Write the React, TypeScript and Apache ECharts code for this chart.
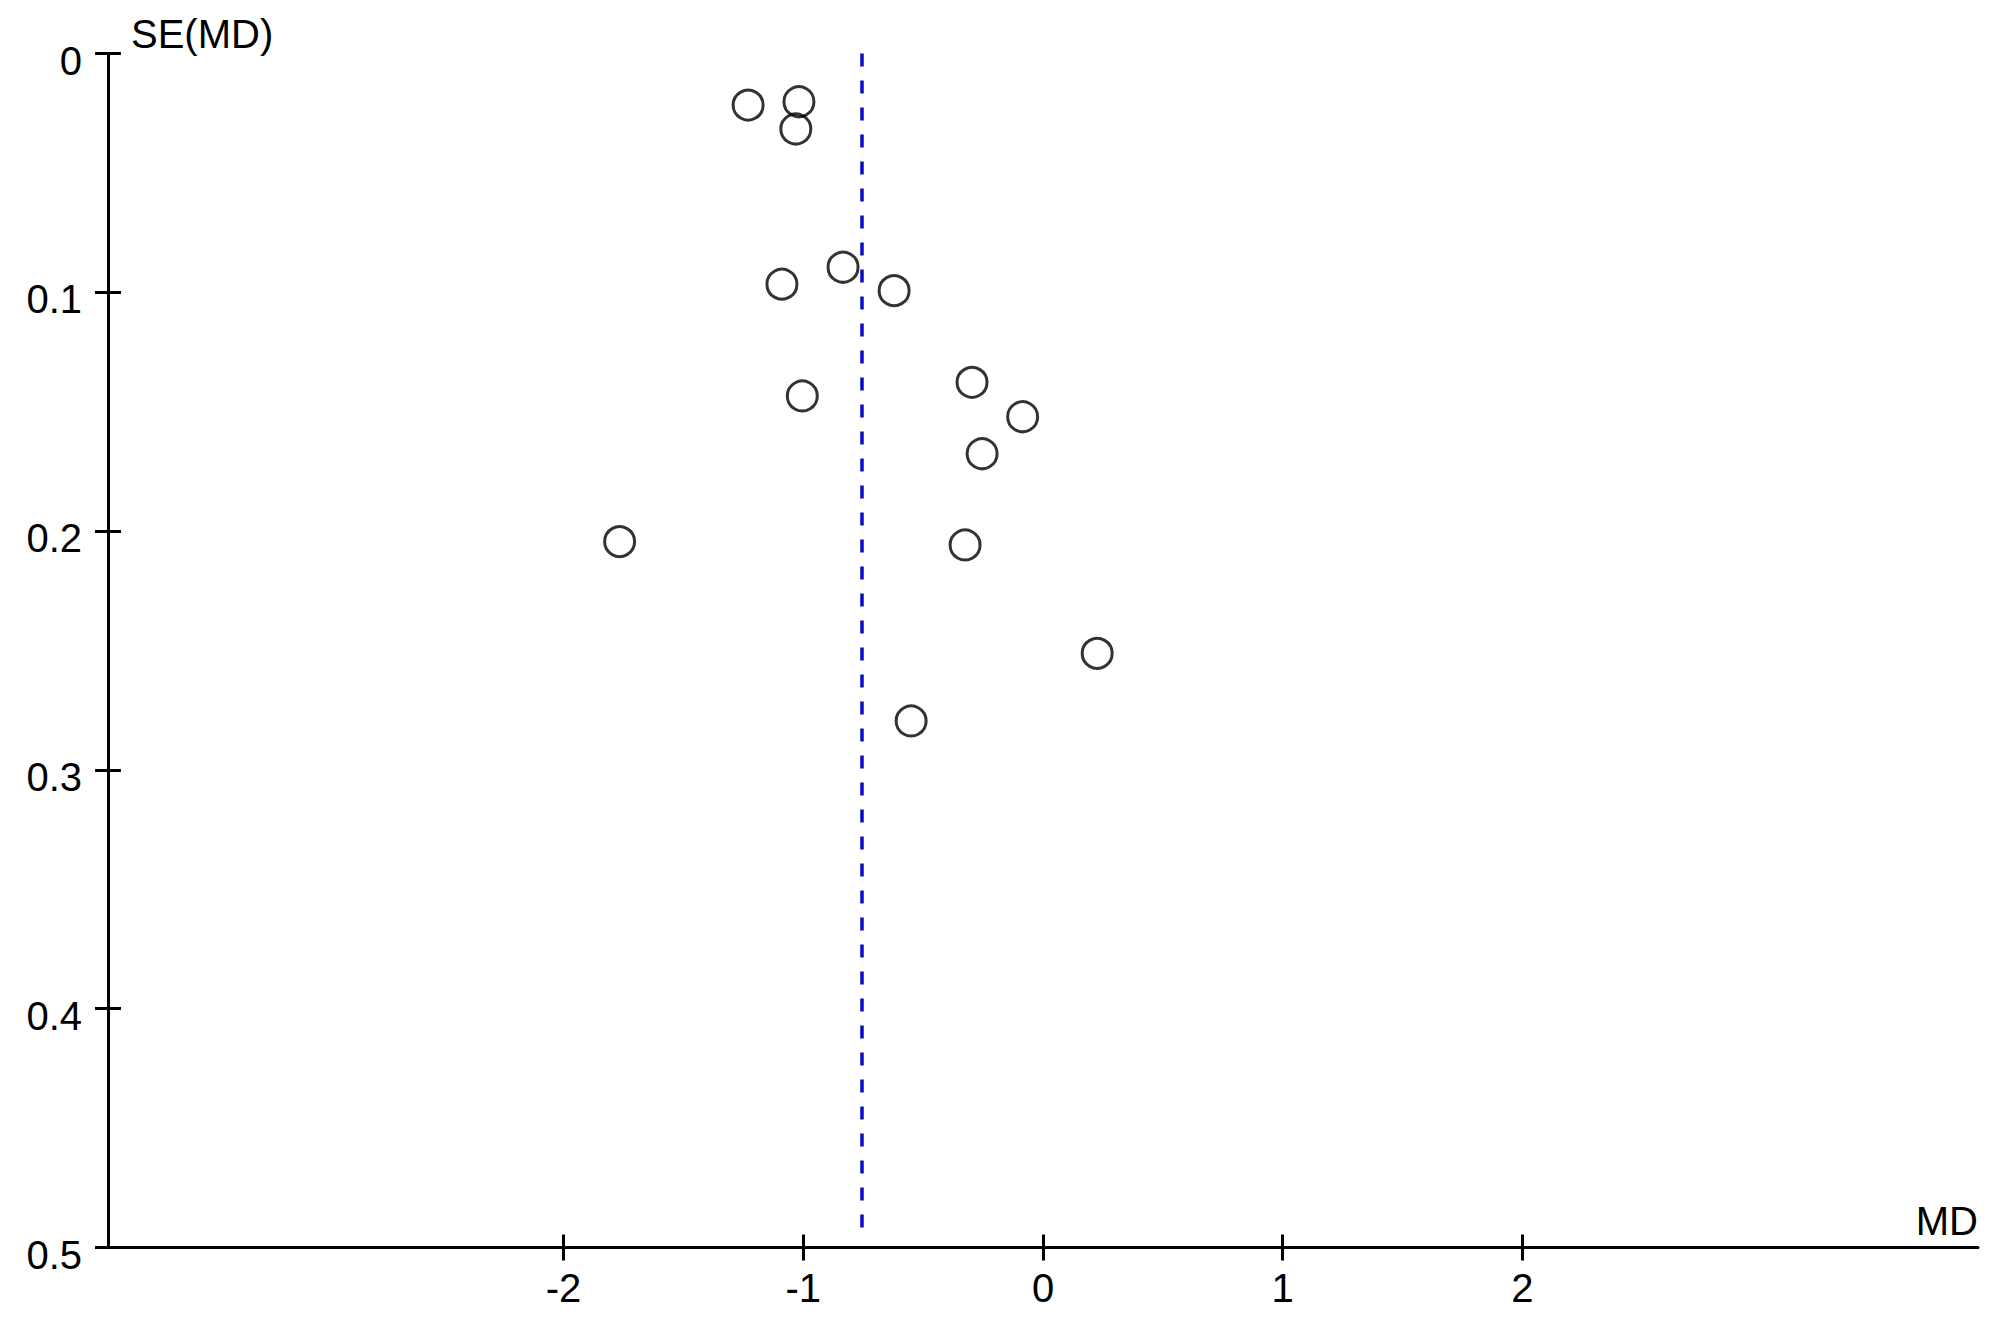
import React, { useEffect, useRef } from "react";
import * as echarts from "echarts";

// Study effect sizes (mean difference) and their standard errors
const studyMD = [-1.23, -1.018, -1.031, -0.834, -1.089, -0.621, -1.004, -0.296, -0.085, -0.254, -0.325, -1.766, 0.226, -0.55];
const studySE = [0.0216, 0.0202, 0.0316, 0.0895, 0.0966, 0.0993, 0.1434, 0.1377, 0.1521, 0.1676, 0.2058, 0.2044, 0.2512, 0.2795];

// Pooled estimate (dashed vertical line) and its drawn extent in SE
const pooledMD = -0.756;
const pooledLineSE = [0, 0.495];

// Axes
const xRange = [-3.9, 3.9];
const yRange = [0, 0.5];
const xTickValues = [-2, -1, 0, 1, 2];
const yTickValues = [0, 0.1, 0.2, 0.3, 0.4, 0.5];
const xAxisName = "MD";
const yAxisName = "SE(MD)";

const FONT = "'Liberation Sans', Arial, Helvetica, sans-serif";

export default function App() {
  const ref = useRef<HTMLDivElement>(null);

  useEffect(() => {
    if (!ref.current) return;
    const chart = echarts.init(ref.current, null, { renderer: "svg" });

    const data = studyMD.map((x, i) => [x, studySE[i]]);
    const tickLine = { color: "#000", width: 3 };
    const labelStyle = { fontSize: 40, fontFamily: FONT, color: "#000" };

    const option: any = {
      animation: false,
      backgroundColor: "#ffffff",
      grid: { left: 108, right: 22, top: 53.5, bottom: 83.5, containLabel: false },
      xAxis: [
        {
          type: "value",
          min: xRange[0],
          max: xRange[1],
          position: "bottom",
          name: xAxisName,
          nameLocation: "end",
          nameGap: 0,
          nameTextStyle: { ...labelStyle, align: "right", verticalAlign: "bottom", padding: [0, 0, 7, 0] },
          axisLine: { show: true, onZero: false, lineStyle: { color: "#000", width: 3 } },
          axisTick: { show: true, inside: false, length: 13, lineStyle: tickLine, customValues: xTickValues },
          axisLabel: { show: true, customValues: xTickValues, margin: 20, ...labelStyle },
          splitLine: { show: false },
        },
        {
          type: "value",
          min: xRange[0],
          max: xRange[1],
          position: "bottom",
          axisLine: { show: false, onZero: false },
          axisTick: { show: true, inside: true, length: 13, lineStyle: tickLine, customValues: xTickValues },
          axisLabel: { show: false },
          splitLine: { show: false },
        },
      ],
      yAxis: [
        {
          type: "value",
          min: yRange[0],
          max: yRange[1],
          inverse: true,
          position: "left",
          name: yAxisName,
          nameLocation: "start",
          nameGap: 0,
          nameTextStyle: { ...labelStyle, align: "left", verticalAlign: "bottom", padding: [0, 0, 0, 23] },
          axisLine: { show: true, onZero: false, lineStyle: { color: "#000", width: 3 } },
          axisTick: { show: true, inside: false, length: 13, lineStyle: tickLine, customValues: yTickValues },
          axisLabel: {
            show: true,
            customValues: yTickValues,
            margin: 26,
            verticalAlign: "top",
            lineHeight: 14,
            formatter: (v: number) => String(v),
            ...labelStyle,
          },
          splitLine: { show: false },
        },
        {
          type: "value",
          min: yRange[0],
          max: yRange[1],
          inverse: true,
          position: "left",
          axisLine: { show: false, onZero: false },
          axisTick: { show: true, inside: true, length: 13, lineStyle: tickLine, customValues: yTickValues },
          axisLabel: { show: false },
          splitLine: { show: false },
        },
      ],
      series: [
        {
          type: "scatter",
          xAxisIndex: 0,
          yAxisIndex: 0,
          data,
          symbol: "circle",
          symbolSize: 30,
          itemStyle: { color: "rgba(0,0,0,0)", borderColor: "#000", borderWidth: 3 },
          markLine: {
            silent: true,
            symbol: ["none", "none"],
            label: { show: false },
            lineStyle: { color: "#0a0ac8", width: 3.5, type: [13, 14] },
            data: [[{ coord: [pooledMD, pooledLineSE[0]] }, { coord: [pooledMD, pooledLineSE[1]] }]],
          },
        },
      ],
    };

    chart.setOption(option);
    return () => chart.dispose();
  }, []);

  return (
    <div
      ref={ref}
      style={{ position: "absolute", left: 0, top: 0, width: 2000, height: 1331, background: "#fff" }}
    />
  );
}
